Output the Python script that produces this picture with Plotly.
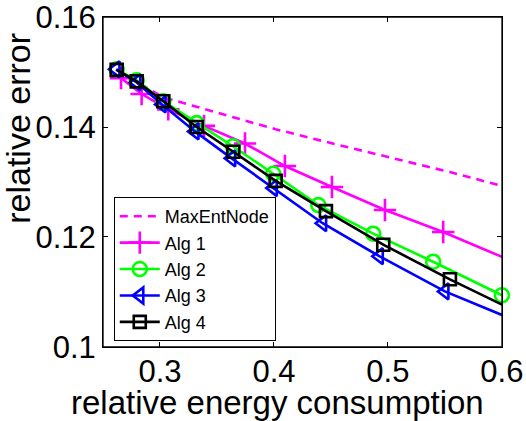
import plotly.graph_objects as go

# ---- data ----
maxent_x = [0.262, 0.2796, 0.3029, 0.3322, 0.3643, 0.4015, 0.4456, 0.4959, 0.5544, 0.62]
maxent_y = [0.1505, 0.1482, 0.1454, 0.1437, 0.1418, 0.1396, 0.1373, 0.1348, 0.1318, 0.1282]

alg1_x = [0.2658, 0.2839, 0.3073, 0.3386, 0.3746, 0.4096, 0.4509, 0.4974, 0.5485, 0.61]
alg1_y = [0.1489, 0.1460, 0.1432, 0.1402, 0.1370, 0.1329, 0.1291, 0.1249, 0.1209, 0.1155]

alg2_x = [0.262, 0.2796, 0.3029, 0.3322, 0.3640, 0.3994, 0.4389, 0.4871, 0.5397, 0.6]
alg2_y = [0.1505, 0.1485, 0.1447, 0.1407, 0.1365, 0.1315, 0.1258, 0.1206, 0.1155, 0.1094]

alg3_x = [0.2614, 0.2796, 0.3018, 0.3307, 0.3629, 0.3994, 0.4427, 0.4924, 0.5500, 0.62]
alg3_y = [0.1505, 0.1481, 0.1441, 0.1392, 0.1343, 0.1289, 0.1225, 0.1165, 0.1101, 0.1041]

alg4_x = [0.262, 0.2796, 0.3029, 0.3322, 0.3643, 0.4015, 0.4456, 0.4959, 0.5544, 0.62]
alg4_y = [0.1504, 0.1483, 0.1447, 0.1400, 0.1355, 0.1302, 0.1247, 0.1186, 0.1123, 0.1057]

x_ticks = [0.3, 0.4, 0.5, 0.6]
x_ticklabels = ["0.3", "0.4", "0.5", "0.6"]
y_ticks = [0.10, 0.12, 0.14, 0.16]
y_ticklabels = ["0.1", "0.12", "0.14", "0.16"]

series_names = ["MaxEntNode", "Alg 1", "Alg 2", "Alg 3", "Alg 4"]
x_title = "relative energy consumption"
y_title = "relative error"

FONT = "Liberation Sans, Arial, Helvetica, sans-serif"
LW = 2.6

fig = go.Figure()

fig.add_trace(go.Scatter(
    x=maxent_x, y=maxent_y, name=series_names[0], mode="lines",
    line=dict(color="#FF00FF", width=LW, dash="8px,6px"),
))
fig.add_trace(go.Scatter(
    x=alg1_x, y=alg1_y, name=series_names[1], mode="lines+markers",
    line=dict(color="#FF00FF", width=LW),
    marker=dict(symbol="cross-thin-open", size=16, color="#FF00FF",
                line=dict(width=2.6, color="#FF00FF")),
))
fig.add_trace(go.Scatter(
    x=alg2_x, y=alg2_y, name=series_names[2], mode="lines+markers",
    line=dict(color="#00FF00", width=LW),
    marker=dict(symbol="circle-open", size=14, color="#00FF00",
                line=dict(width=2.6)),
    cliponaxis=False,
))
fig.add_trace(go.Scatter(
    x=alg3_x, y=alg3_y, name=series_names[3], mode="lines+markers",
    line=dict(color="#0000FF", width=LW),
    marker=dict(symbol="triangle-left-open", size=14, color="#0000FF",
                line=dict(width=2.6)),
))
fig.add_trace(go.Scatter(
    x=alg4_x, y=alg4_y, name=series_names[4], mode="lines+markers",
    line=dict(color="#000000", width=LW),
    marker=dict(symbol="square-open", size=12, color="#000000",
                line=dict(width=2.6)),
))

axis_common = dict(
    showline=True, linecolor="black", linewidth=1, mirror="ticks",
    ticks="inside", ticklen=5, tickwidth=1, tickcolor="black",
    showgrid=False, zeroline=False, automargin=False,
    ticklabeloverflow="allow",
    tickfont=dict(family=FONT, size=31, color="black"),
)

fig.update_xaxes(range=[0.25, 0.6001], tickvals=x_ticks, ticktext=x_ticklabels,
                 ticklabelstandoff=-3, **axis_common)
fig.update_yaxes(range=[0.09999, 0.16001], tickvals=y_ticks, ticktext=y_ticklabels, **axis_common)

fig.update_layout(
    width=526, height=421,
    margin=dict(l=103, r=24, t=17, b=74, autoexpand=False),
    paper_bgcolor="white", plot_bgcolor="white",
    font=dict(family=FONT, color="black"),
    showlegend=True,
    legend=dict(
        x=0.027, y=0.018, xanchor="left", yanchor="bottom",
        bgcolor="white", bordercolor="black", borderwidth=1,
        font=dict(family=FONT, size=18, color="black"),
        itemwidth=40, tracegroupgap=0,
    ),
    shapes=[dict(type="rect", xref="paper", yref="paper", x0=0, y0=0, x1=1, y1=1,
                 line=dict(color="black", width=1.3), layer="above")],
    annotations=[
        dict(text=x_title, xref="paper", yref="paper", x=0.4377, y=-0.169,
             xanchor="center", yanchor="middle", showarrow=False,
             font=dict(family=FONT, size=33, color="black")),
        dict(text=y_title, xref="paper", yref="paper", x=-0.2132, y=0.664,
             xanchor="center", yanchor="middle", showarrow=False, textangle=-90,
             font=dict(family=FONT, size=34, color="black")),
    ],
)

fig.write_html("out.html", config={"displayModeBar": False},
               post_script="document.body.style.margin='0';document.body.style.overflow='hidden';")
